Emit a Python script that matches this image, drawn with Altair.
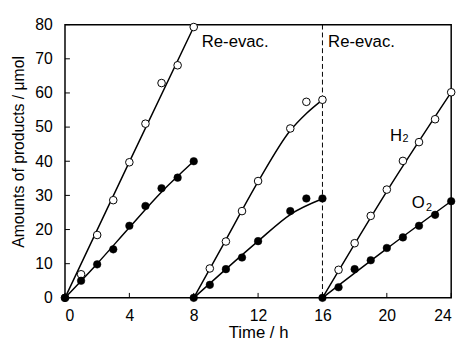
import altair as alt
import pandas as pd

# ---- data ----
h2_time = [0, 1, 2, 3, 4, 5, 6, 7, 8,
           9, 10, 11, 12, 14, 15, 16,
           17, 18, 19, 20, 21, 22, 23, 24]
h2_amount = [0, 6.9, 18.4, 28.6, 39.7, 51.0, 62.9, 68.1, 79.3,
             8.6, 16.5, 25.4, 34.2, 49.6, 57.4, 58.0,
             8.2, 16.0, 24.0, 31.7, 40.1, 45.6, 52.3, 60.2]

o2_time = [0, 1, 2, 3, 4, 5, 6, 7, 8,
           8, 9, 10, 11, 12, 14, 15, 16,
           16, 17, 18, 19, 20, 21, 22, 23, 24]
o2_amount = [0, 5.0, 9.8, 14.2, 21.1, 26.9, 32.1, 35.2, 40.0,
             0, 3.8, 8.4, 11.8, 16.6, 25.4, 29.1, 29.1,
             0, 3.1, 8.4, 11.0, 14.6, 17.7, 21.1, 24.3, 28.3]

# fitted curves
curve_id = ["h1"] * 3 + ["o1"] * 5 + ["h2"] * 6 + ["o2"] * 5 + ["h3"] * 3 + ["o3"] * 3
curve_time = [0, 4, 8,
              0, 2, 4, 6, 8,
              8, 10, 12, 14, 15, 16,
              8, 10, 12, 14, 16,
              16, 20, 24,
              16, 20, 24]
curve_amount = [0, 39.8, 79.3,
                0, 10.0, 20.6, 31.0, 40.0,
                0, 17.0, 34.0, 49.0, 54.0, 58.0,
                0, 8.4, 16.6, 24.4, 29.0,
                0, 31.2, 60.2,
                0, 14.4, 28.3]

x_ticks = [0, 4, 8, 12, 16, 20, 24]
y_ticks = [0, 10, 20, 30, 40, 50, 60, 70, 80]

evac_time = [16]
evac_label_x = [8.5, 16.35]
evac_label_y = [75, 75]
evac_label_text = ["Re-evac.", "Re-evac."]

species_main = ["H", "O"]
species_main_x = [20.2, 21.55]
species_main_y = [46.0, 26.3]
species_sub = ["2", "2"]
species_sub_x = [20.98, 22.44]
species_sub_y = [45.6, 25.5]

FONT = "Liberation Sans"
W, H = 393, 278

xs = alt.Scale(domain=[0, 24], nice=False)
ys = alt.Scale(domain=[0, 80], nice=False)

h2 = pd.DataFrame({"t": h2_time, "v": h2_amount})
o2 = pd.DataFrame({"t": o2_time, "v": o2_amount})
cv = pd.DataFrame({"id": curve_id, "t": curve_time, "v": curve_amount})

x_axis = alt.Axis(values=x_ticks, title="Time / h", labelPadding=23, labelBaseline="alphabetic",
                  titleFontSize=17, titleFontWeight="normal", titleBaseline="alphabetic",
                  titleAlign="center", titleX=W / 2, titleY=40)
y_axis = alt.Axis(values=y_ticks, title="Amounts of products / μmol",
                  labelPadding=13, titleFontSize=16, titleFontWeight="normal", titleAngle=270,
                  titleAlign="center", titleBaseline="alphabetic", titleX=-42, titleY=129)
xe = alt.X("t:Q", scale=xs, axis=x_axis)
ye = alt.Y("v:Q", scale=ys, axis=y_axis)

lines = alt.Chart(cv).mark_line(color="black", strokeWidth=1.5, interpolate="monotone").encode(
    x=xe, y=ye, detail="id:N")

dash = alt.Chart(pd.DataFrame({"t": evac_time})).mark_rule(
    color="black", strokeWidth=1, strokeDash=[5, 3]).encode(
    x=xe, y=alt.value(0), y2=alt.value(H))

h2_pts = alt.Chart(h2).mark_point(shape="circle", filled=True, fill="white", stroke="black",
                                  strokeWidth=1, size=60, opacity=1, clip=False).encode(
    x=xe, y=ye)

o2_pts = alt.Chart(o2).mark_point(shape="circle", filled=True, fill="black", stroke="black",
                                  strokeWidth=0.5, size=60, opacity=1, clip=False).encode(
    x=xe, y=ye)

xt = alt.Chart(pd.DataFrame({"t": x_ticks})).mark_rule(color="black", strokeWidth=1).encode(
    x=xe, y=alt.value(H), y2=alt.value(H - 5))
yt = alt.Chart(pd.DataFrame({"v": y_ticks})).mark_rule(color="black", strokeWidth=1).encode(
    y=ye, x=alt.value(0), x2=alt.value(5))

evac = alt.Chart(pd.DataFrame({"t": evac_label_x, "v": evac_label_y, "s": evac_label_text})).mark_text(
    font=FONT, fontSize=17, align="left", baseline="middle", color="black").encode(
    x=xe, y=ye, text="s:N")

spm = alt.Chart(pd.DataFrame({"t": species_main_x, "v": species_main_y, "s": species_main})).mark_text(
    font=FONT, fontSize=17, align="left", baseline="alphabetic", color="black").encode(
    x=xe, y=ye, text="s:N")

sps = alt.Chart(pd.DataFrame({"t": species_sub_x, "v": species_sub_y, "s": species_sub})).mark_text(
    font=FONT, fontSize=11, align="left", baseline="alphabetic", color="black").encode(
    x=xe, y=ye, text="s:N")

chart = alt.layer(lines, xt, yt, dash, h2_pts, o2_pts, evac, spm, sps).properties(
    width=W, height=H,
    background="white",
    autosize=alt.AutoSizeParams(type="none"),
    padding={"left": 58, "top": 14, "right": 11, "bottom": 42},
).configure_view(
    stroke="black", strokeWidth=1.5
).configure_axis(
    labelFont=FONT, labelFontSize=16, labelColor="black",
    titleFont=FONT, titleFontWeight="normal", titleColor="black",
    grid=False, ticks=False, tickSize=0, domain=False,
)

chart.save("out.html", embed_options={"renderer": "svg", "actions": False})
